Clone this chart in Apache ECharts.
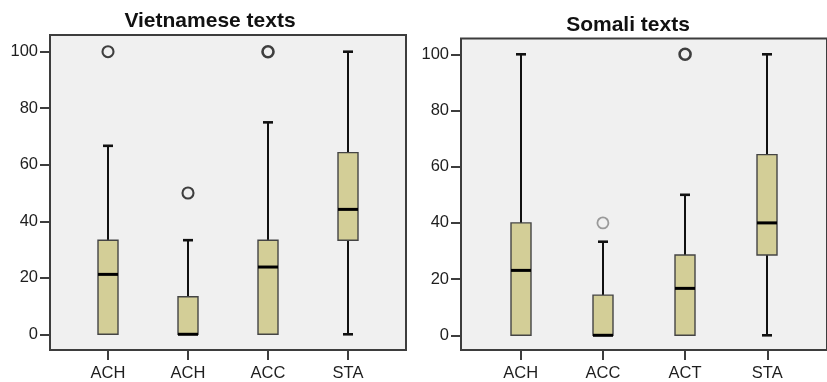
<!DOCTYPE html>
<html>
<head>
<meta charset="utf-8">
<script src="https://cdn.jsdelivr.net/npm/echarts@6/dist/echarts.min.js"></script>
<style>
  html, body { margin: 0; padding: 0; background: #ffffff; }
  #chart { width: 827px; height: 382px; }
</style>
</head>
<body>
<div id="chart"></div>
<script>
// Shared value-axis tick labels
const yTicks = [0, 20, 40, 60, 80, 100];

// Vietnamese texts: five-number summaries per measure
const vietCategories = ['ACH', 'ACH', 'ACC', 'STA'];
const vietLow = [0, 0, 0, 0];
const vietQ1 = [0, 0, 0, 33.3];
const vietMedian = [21.2, 0, 23.8, 44.2];
const vietQ3 = [33.3, 13.3, 33.3, 64.3];
const vietHigh = [66.7, 33.3, 75, 100];
// [category index, value, number of cases at that value]
const vietOutliers = [[0, 100, 2], [1, 50, 2], [2, 100, 3]];

// Somali texts: five-number summaries per measure
const somaliCategories = ['ACH', 'ACC', 'ACT', 'STA'];
const somaliLow = [0, 0, 0, 0];
const somaliQ1 = [0, 0, 0, 28.6];
const somaliMedian = [23.1, 0, 16.7, 40];
const somaliQ3 = [40, 14.3, 28.6, 64.3];
const somaliHigh = [100, 33.3, 50, 100];
const somaliOutliers = [[1, 40, 1], [2, 100, 3]];

const FRAME = '#3d3d3d';
const BOX_FILL = '#d3ce97';
const FONT = 'Liberation Sans, Arial, sans-serif';

function boxRows(low, q1, med, q3, high) {
  return low.map((v, i) => [i, v, q1[i], med[i], q3[i], high[i]]);
}

function outlierPoints(list) {
  return list.map(([i, v, n]) => ({
    value: [i, v],
    itemStyle: {
      color: 'rgba(0,0,0,0)',
      borderColor: n > 1 ? '#111111' : '#858585',
      borderWidth: n > 2 ? 2.6 : (n > 1 ? 2.1 : 1.8)
    }
  }));
}

function renderBox(params, api) {
  const x = api.value(0);
  const vLow = api.value(1), vQ1 = api.value(2), vQ3 = api.value(4), vHigh = api.value(5);
  const low = api.coord([x, vLow]);
  const q1 = api.coord([x, vQ1]);
  const med = api.coord([x, api.value(3)]);
  const q3 = api.coord([x, vQ3]);
  const high = api.coord([x, vHigh]);
  const cx = Math.round(low[0]);
  const halfBox = 10;
  const halfCap = 5;
  const whisker = { stroke: '#111111', lineWidth: 2 };
  const cap = { stroke: '#111111', lineWidth: 2.6 };
  const children = [];
  if (vHigh > vQ3) {
    children.push({ type: 'line', shape: { x1: cx, y1: q3[1], x2: cx, y2: high[1] }, style: whisker });
    children.push({ type: 'line', shape: { x1: cx - halfCap, y1: high[1], x2: cx + halfCap, y2: high[1] }, style: cap });
  }
  if (vQ1 > vLow) {
    children.push({ type: 'line', shape: { x1: cx, y1: q1[1], x2: cx, y2: low[1] }, style: whisker });
    children.push({ type: 'line', shape: { x1: cx - halfCap, y1: low[1], x2: cx + halfCap, y2: low[1] }, style: cap });
  }
  children.push({
    type: 'rect',
    shape: { x: cx - halfBox, y: q3[1], width: halfBox * 2, height: q1[1] - q3[1] },
    style: { fill: BOX_FILL, stroke: '#444444', lineWidth: 1.4 }
  });
  children.push({
    type: 'line',
    shape: { x1: cx - halfBox, y1: med[1], x2: cx + halfBox, y2: med[1] },
    style: { stroke: '#000000', lineWidth: 3 }
  });
  return { type: 'group', children };
}

function xAxisFor(index, cats, min, max) {
  return {
    type: 'value', gridIndex: index, min, max, position: 'bottom',
    splitLine: { show: false },
    axisLine: { show: false, onZero: false },
    axisTick: { show: true, inside: false, customValues: [0, 1, 2, 3], length: 10, lineStyle: { color: FRAME, width: 2 } },
    axisLabel: {
      show: true, customValues: [0, 1, 2, 3],
      formatter: v => cats[Math.round(v)],
      margin: 15, fontSize: 16.5, color: '#1e1e1e', fontFamily: FONT
    }
  };
}

function yAxisFor(index, min, max) {
  return {
    type: 'value', gridIndex: index, min, max, position: 'left',
    splitLine: { show: false },
    axisLine: { show: false, onZero: false },
    axisTick: { show: true, inside: false, customValues: yTicks, length: 10, lineStyle: { color: FRAME, width: 2 } },
    axisLabel: {
      show: true, customValues: yTicks,
      margin: 12, fontSize: 16.5, color: '#1e1e1e', fontFamily: FONT
    }
  };
}

const titleStyle = { fontSize: 21, fontWeight: 'bold', color: '#111111', fontFamily: FONT };

const chart = echarts.init(document.getElementById('chart'), null, { renderer: 'canvas' });
chart.setOption({
  animation: false,
  backgroundColor: '#ffffff',
  title: [
    { text: 'Vietnamese texts', left: 210, top: 11, padding: 0, textAlign: 'center', textStyle: titleStyle },
    { text: 'Somali texts', left: 628, top: 15, padding: 0, textAlign: 'center', textStyle: titleStyle }
  ],
  grid: [
    { left: 50, top: 35, width: 356, height: 315, show: true, backgroundColor: '#f0f0f0', borderColor: FRAME, borderWidth: 2 },
    { left: 461, top: 38.5, width: 372, height: 311.5, show: true, backgroundColor: '#f0f0f0', borderColor: FRAME, borderWidth: 2 }
  ],
  xAxis: [
    xAxisFor(0, vietCategories, -0.725, 3.725),
    xAxisFor(1, somaliCategories, -0.727, 3.727)
  ],
  yAxis: [
    yAxisFor(0, -5.56, 105.91),
    yAxisFor(1, -5.23, 105.62)
  ],
  series: [
    {
      type: 'custom', name: 'Vietnamese texts', xAxisIndex: 0, yAxisIndex: 0,
      renderItem: renderBox,
      encode: { x: 0, y: [1, 2, 3, 4, 5] },
      data: boxRows(vietLow, vietQ1, vietMedian, vietQ3, vietHigh)
    },
    {
      type: 'scatter', xAxisIndex: 0, yAxisIndex: 0,
      symbol: 'circle', symbolSize: 11,
      data: outlierPoints(vietOutliers)
    },
    {
      type: 'custom', name: 'Somali texts', xAxisIndex: 1, yAxisIndex: 1,
      renderItem: renderBox,
      encode: { x: 0, y: [1, 2, 3, 4, 5] },
      data: boxRows(somaliLow, somaliQ1, somaliMedian, somaliQ3, somaliHigh)
    },
    {
      type: 'scatter', xAxisIndex: 1, yAxisIndex: 1,
      symbol: 'circle', symbolSize: 11,
      data: outlierPoints(somaliOutliers)
    }
  ]
});
</script>
</body>
</html>
